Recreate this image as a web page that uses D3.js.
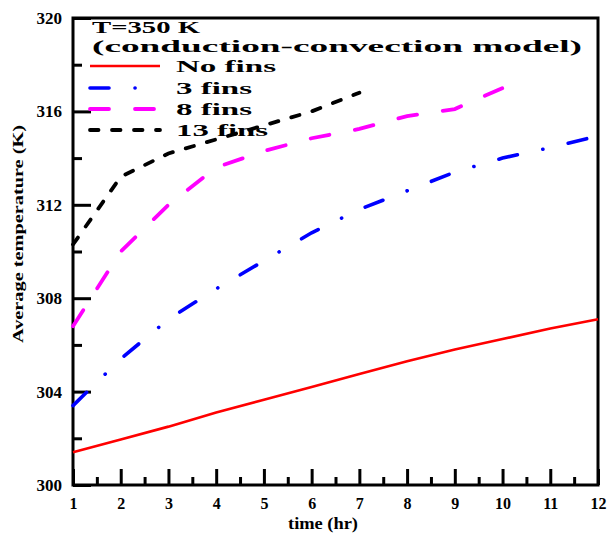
<!DOCTYPE html>
<html><head><meta charset="utf-8">
<script src="https://cdn.jsdelivr.net/npm/d3@7"></script>
<style>body{margin:0;background:#fff}svg{display:block}text{font-family:"Liberation Serif","Times New Roman",serif;font-weight:bold}</style>
</head><body>
<script>
const hours = [1,2,3,4,5,6,7,8,9,10,11,12];
const noFins = [301.4,301.95,302.5,303.1,303.65,304.2,304.75,305.3,305.8,306.25,306.7,307.1];
const fins3  = [303.4,305.4,307.1,308.4,309.6,310.8,311.8,312.6,313.4,314.0,314.45,314.95];
const fins8  = [306.8,310.0,312.0,313.6,314.3,314.85,315.25,315.8,316.1,317.0];
const fins13 = [310.3,313.2,314.2,314.8,315.4,316.0,316.8];
const xTicks = [1,2,3,4,5,6,7,8,9,10,11,12];
const yTicks = [300,304,308,312,316,320];
const seriesNames = ["No fins","3 fins","8 fins","13 fins"];
const legendTitle = ["T=350 K","(conduction-convection model)"];

const W=609,H=533;
const svg=d3.select("body").append("svg").attr("width",W).attr("height",H);
const x=d3.scaleLinear().domain([1,12]).range([73,598]);
const y=d3.scaleLinear().domain([300,320]).range([485,18]);

// minor ticks
svg.append("g").attr("transform","translate(0,485)")
  .call(d3.axisBottom(x).tickValues(d3.range(1.5,12,1)).tickSize(-8).tickFormat(""))
  .call(g=>g.select(".domain").remove()).selectAll("line").attr("stroke-width",3);
svg.append("g").attr("transform","translate(73,0)")
  .call(d3.axisLeft(y).tickValues([302,306,310,314,318]).tickSize(-9).tickFormat(""))
  .call(g=>g.select(".domain").remove()).selectAll("line").attr("stroke-width",3);
// major ticks
const gx=svg.append("g").attr("transform","translate(0,485)")
  .call(d3.axisBottom(x).tickValues(xTicks).tickSize(-16).tickPadding(18).tickFormat(d3.format("d")));
gx.select(".domain").remove();
gx.selectAll("line").attr("stroke-width",3);
gx.selectAll("text").attr("font-size",16).attr("fill","#000").attr("dy","0.71em").attr("y",13);
const gy=svg.append("g").attr("transform","translate(73,0)")
  .call(d3.axisLeft(y).tickValues(yTicks).tickSize(-18).tickPadding(11).tickFormat(d3.format("d")));
gy.select(".domain").remove();
gy.selectAll("line").attr("stroke-width",3);
gy.selectAll("text").attr("font-size",17).attr("fill","#000");

// frame
svg.append("rect").attr("x",73).attr("y",18).attr("width",525).attr("height",467)
  .attr("fill","none").attr("stroke","#000").attr("stroke-width",3);

// titles
svg.append("text").attr("x",323).attr("y",529).attr("text-anchor","middle").attr("font-size",16)
  .attr("textLength",70).attr("lengthAdjust","spacingAndGlyphs").text("time (hr)");
svg.append("text").attr("transform","translate(23,234) rotate(-90)").attr("text-anchor","middle")
  .attr("font-size",15).attr("textLength",218).attr("lengthAdjust","spacingAndGlyphs").text("Average temperature (K)");

const styles=[
  {color:"#ff0000",width:2.6,dash:null,cap:"butt"},
  {color:"#0000ff",width:3.6,dash:"19 26 0.1 26",cap:"round"},
  {color:"#ff00ff",width:3.8,dash:"19 26",cap:"round"},
  {color:"#000000",width:3.8,dash:"8.5 13.5",cap:"round"}
];
const data=[noFins,fins3,fins8,fins13];
const line=d3.line().x((d,i)=>x(hours[i])).y(d=>y(d));
data.forEach((vals,k)=>{
  const s=styles[k];
  svg.append("path").datum(vals).attr("d",line).attr("fill","none")
    .attr("stroke",s.color).attr("stroke-width",s.width)
    .attr("stroke-dasharray",s.dash).attr("stroke-linecap",s.cap);
});

// legend
svg.append("text").attr("x",92).attr("y",33).attr("font-size",16)
  .attr("textLength",108).attr("lengthAdjust","spacingAndGlyphs").text(legendTitle[0]);
svg.append("text").attr("x",92).attr("y",52).attr("font-size",16)
  .attr("textLength",490).attr("lengthAdjust","spacingAndGlyphs").text(legendTitle[1]);
const rowY=[66,88,109,130];
const txtLen=[100,76,76,92];
seriesNames.forEach((n,k)=>{
  const s=styles[k];
  svg.append("line").attr("x1",90).attr("x2",160).attr("y1",rowY[k]).attr("y2",rowY[k])
    .attr("stroke",s.color).attr("stroke-width",s.width).attr("stroke-dasharray",s.dash).attr("stroke-linecap",s.cap);
  svg.append("text").attr("x",176).attr("y",rowY[k]+6).attr("font-size",16)
    .attr("textLength",txtLen[k]).attr("lengthAdjust","spacingAndGlyphs").text(n);
});
</script>
</body></html>
